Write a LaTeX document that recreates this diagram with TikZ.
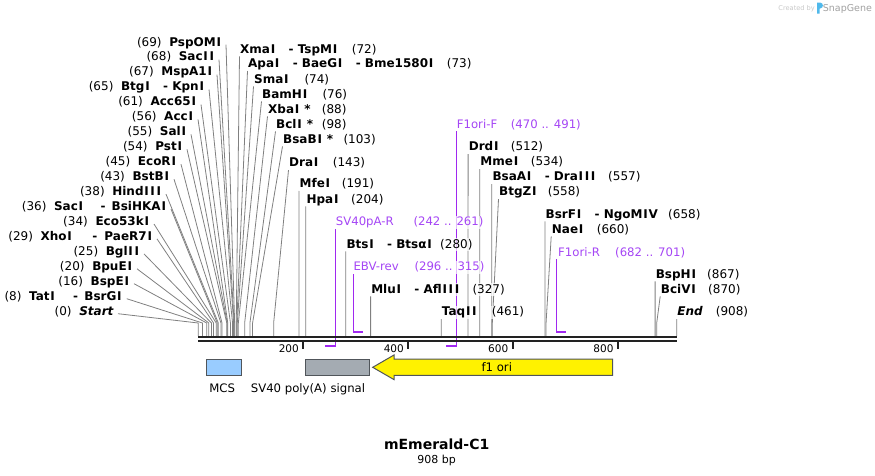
\documentclass[tikz,border=0pt]{standalone}
\usepackage{fontspec}
\setmainfont{DejaVu Sans}
\pgfdeclarelayer{bg}
\pgfsetlayers{bg,main}
\definecolor{prim}{RGB}{160,40,240}
\definecolor{primtxt}{RGB}{165,70,245}
\definecolor{cutg}{RGB}{128,128,128}
\definecolor{barc}{RGB}{34,34,34}
\definecolor{mcsc}{RGB}{153,204,255}
\definecolor{svc}{RGB}{164,171,178}
\definecolor{edgec}{RGB}{80,85,90}
\definecolor{logoc}{RGB}{80,185,235}
\definecolor{wmA}{RGB}{200,200,200}
\definecolor{wmB}{RGB}{160,160,160}
\newcommand\fsz{\fontsize{12}{14}\selectfont}
\newcommand\sepd{\ \ \ - }
\newcommand\sepw[2]{\ \ \ \hspace{#1}-\ \hspace{#2}}
\newcommand\bI{\kern0.8pt I\kern0.8pt}
\tikzset{
  lab/.style={font=\fsz, inner sep=1pt, fill=white, fill opacity=0.7, text opacity=1, text height=8.8pt, text depth=2.2pt},
  plab/.style={lab, text=primtxt, font=\fontsize{11.7}{14}\selectfont},
  cut/.style={draw=cutg, line width=0.8pt},
  pline/.style={draw=prim, line width=0.9pt},
  pbrk/.style={draw=prim, line width=2pt},
  barline/.style={draw=barc, line width=2.4pt},
  tickl/.style={draw=barc, line width=2pt},
  ticklab/.style={font=\fontsize{10.5}{12}\selectfont, inner sep=0pt, anchor=base east},
  featbox/.style={draw=edgec, line width=1pt, inner sep=0pt},
  flab/.style={font=\fontsize{11.7}{14}\selectfont, inner sep=0pt, anchor=base},
}
\newcommand\xp[1]{198.3+0.5269*#1}
% left-hand labels: N, name, right end, y centre
\newcommand\LL[4]{%
  \node[lab,anchor=base east] (l#1) at ({#3+1},{#4+4}) {(#1)\ \ #2};
  \coordinate (k#1) at ({\xp{#1}},323);
  \coordinate (b#1) at ({\xp{#1}},336);
  \begin{pgfonlayer}{bg}\draw[cut] ([xshift=3pt,yshift=-2pt]l#1.east) -- (k#1) -- (b#1);\end{pgfonlayer}
}
% upper labels: N, name, text x, y centre, number x
\newcommand\TL[5]{%
  \node[lab,anchor=base west] (t#1) at ({#3-1},{#4+4}) {#2};
  \node[lab,anchor=base west] (n#1) at ({#5-1},{#4+4}) {(#1)};
  \coordinate (k#1) at ({\xp{#1}},323);
  \coordinate (b#1) at ({\xp{#1}},336);
  \begin{pgfonlayer}{bg}\draw[cut] ([xshift=0.5pt]t#1.south west) -- (k#1) -- (b#1);\end{pgfonlayer}
}
\begin{document}
\begin{tikzpicture}[x=1pt,y=-1pt]
\useasboundingbox (0,0) rectangle (875,475);

% watermark
\node[font=\fontsize{6.6}{8}\selectfont, text=wmA, anchor=base east, inner sep=0pt] (wm1) at (815,10.3) {Created by};
\fill[logoc] (817,2.5) -- (820,2.5) .. controls (823.8,2.5) and (823.8,8.5) .. (820,8.5) -- (819.6,8.5) -- (819.6,13.7) -- (817,13.7) -- cycle;
\node[font=\fontsize{9.5}{11}\selectfont, text=wmB, anchor=base west, inner sep=0pt] (wm2) at (822.7,11.3) {SnapGene};

% left cluster
\LL{69}{\textbf{PspOM\bI}}{222}{42}
\LL{68}{\textbf{Sac\bI\bI}}{215}{56.9}
\LL{67}{\textbf{MspA1\bI}}{213}{71.9}
\LL{65}{\textbf{Btg\bI\sepd Kpn\bI}}{205}{86.8}
\LL{61}{\textbf{Acc65\bI}}{197}{101.8}
\LL{56}{\textbf{Acc\bI}}{194}{116.7}
\LL{55}{\textbf{Sal\bI}}{187}{131.6}
\LL{54}{\textbf{Pst\bI}}{183}{146.6}
\LL{45}{\textbf{EcoR\bI}}{177}{161.5}
\LL{43}{\textbf{BstB\bI}}{170}{176.5}
\LL{38}{\textbf{Hind\bI\bI\bI}}{162}{191.4}
\LL{36}{\textbf{Sac\bI\sepw{4pt}{2pt}BsiHKA\bI}}{167}{206.3}
\LL{34}{\textbf{Eco53k\bI}}{150}{221.3}
\LL{29}{\textbf{Xho\bI\sepw{7pt}{3pt}PaeR7\bI}}{153}{236.2}
\LL{25}{\textbf{Bgl\bI\bI}}{140}{251.2}
\LL{20}{\textbf{BpuE\bI}}{133}{266.1}
\LL{16}{\textbf{BspE\bI}}{130}{281.0}
\LL{8}{\textbf{Tat\bI\sepw{5pt}{2pt}BsrG\bI}}{122.7}{296}
\LL{0}{\textbf{\textit{Start}}}{114}{311}

% upper labels
\TL{72}{\textbf{Xma\bI\sepd TspM\bI}}{240}{49}{351.7}
\TL{73}{\textbf{Apa\bI\sepd BaeG\bI\sepd Bme1580\bI}}{248}{63.5}{446.7}
\TL{74}{\textbf{Sma\bI}}{254}{79}{304.3}
\TL{76}{\textbf{BamH\bI}}{262}{94}{322.3}
\TL{88}{\textbf{Xba\bI\ *}}{268}{109}{321.7}
\TL{98}{\textbf{Bcl\bI\ *}}{276}{124}{321.7}
\TL{103}{\textbf{BsaB\bI\ *}}{283}{139}{343.3}
\TL{143}{\textbf{Dra\bI}}{289}{162.7}{332.7}
\TL{191}{\textbf{Mfe\bI}}{299.4}{183.5}{341.7}
\TL{204}{\textbf{Hpa\bI}}{306.3}{199}{351}
\TL{280}{\textbf{Bts\bI\sepd Btsα\bI}}{346.3}{244}{440}
\TL{327}{\textbf{Mlu\bI\sepd Afl\bI\bI\bI}}{371.1}{289}{472.3}
\TL{461}{\textbf{Taq\bI\bI}}{441.7}{311.7}{491.7}
\TL{512}{\textbf{Drd\bI}}{468.6}{146.7}{510.7}
\TL{534}{\textbf{Mme\bI}}{480.2}{161.7}{530.7}
\TL{557}{\textbf{BsaA\bI\sepd Dra\bI\bI\bI}}{492.3}{176.7}{608}
\TL{558}{\textbf{BtgZ\bI}}{499}{191.7}{547.7}
\TL{658}{\textbf{BsrF\bI\sepd NgoM\bI V}}{545.5}{214}{668}
\TL{660}{\textbf{Nae\bI}}{551.7}{229}{596.7}
\TL{867}{\textbf{BspH\bI}}{655.6}{274}{707}
\TL{870}{\textbf{BciV\bI}}{660.7}{289}{708}
\TL{908}{\textbf{\textit{End}}}{677.2}{311.7}{715.7}

% primers
\node[plab,anchor=base west] (pA) at (334.7,225.7) {SV40pA-R};
\node[plab,anchor=base west] (pAn) at (412.3,225.7) {(242 .. 261)};
\coordinate (pA1) at (335.7,346); \coordinate (pA2) at (325.2,346);
\node[plab,anchor=base west] (pB) at (352.3,270.7) {EBV-rev};
\node[plab,anchor=base west] (pBn) at (413.3,270.7) {(296 .. 315)};
\coordinate (pB1) at (353.3,332); \coordinate (pB2) at (363.3,332);
\node[plab,anchor=base west] (pC) at (455.7,128) {F1ori-F};
\node[plab,anchor=base west] (pCn) at (509.7,128) {(470 .. 491)};
\coordinate (pC1) at (456.7,346); \coordinate (pC2) at (445.7,346);
\node[plab,anchor=base west] (pD) at (557,256) {F1ori-R};
\node[plab,anchor=base west] (pDn) at (614,256) {(682 .. 701)};
\coordinate (pD1) at (556.7,332); \coordinate (pD2) at (566.3,332);
\begin{pgfonlayer}{bg}
  \draw[pline] (pA.south west -| pA1) -- (pA1);
  \draw[pline] (pB.south west -| pB1) -- (pB1);
  \draw[pline] (pC.south west -| pC1) -- (pC1);
  \draw[pline] (pD.south west -| pD1) -- (pD1);
\end{pgfonlayer}
\draw[pbrk] ([xshift=0.45pt]pA1) -- (pA2);
\draw[pbrk] ([xshift=-0.45pt]pB1) -- (pB2);
\draw[pbrk] ([xshift=0.45pt]pC1) -- (pC2);
\draw[pbrk] ([xshift=-0.45pt]pD1) -- (pD2);

% sequence bar
\coordinate (s0) at (198.3,337.2); \coordinate (s1) at (676.7,337.2);
\coordinate (r0) at (198.3,341.2); \coordinate (r1) at (676.7,341.2);
\draw[barline] (s0) -- (s1);
\draw[barline] (r0) -- (r1);
\foreach \v/\tx in {200/303.3,400/408.3,600/512.7,800/618}{
  \draw[tickl] (\tx,342) -- (\tx,349);
  \node[ticklab] (tk\v) at ({\tx-4.3},352.3) {\v};
}

% features
\node[featbox, fill=mcsc, minimum width=35.7pt, minimum height=16.5pt] (mcs) at (223.85,367.3) {};
\node[featbox, fill=svc, minimum width=64.3pt, minimum height=16.5pt] (sv) at (337.15,367.3) {};
\draw[draw=edgec, line width=1pt, fill=yellow] (612.7,359.2) -- (394,359.2) -- (394,355) -- (372.7,367.3) -- (394,379.6) -- (394,375.4) -- (612.7,375.4) -- cycle;
\node[flab] (f1) at (496.8,371.6) {f1 ori};
\node[flab] (mcsl) at (222.2,392.5) {MCS};
\node[flab] (svl) at (308,392.5) {SV40 poly(A) signal};

% title
\node[font=\fontsize{14}{16}\selectfont\bfseries, anchor=base, inner sep=0pt] (title) at (436.7,449) {mEmerald-C1};
\node[font=\fontsize{11}{13}\selectfont, anchor=base, inner sep=0pt] (len) at (436.7,463.3) {908 bp};
\end{tikzpicture}
\end{document}
